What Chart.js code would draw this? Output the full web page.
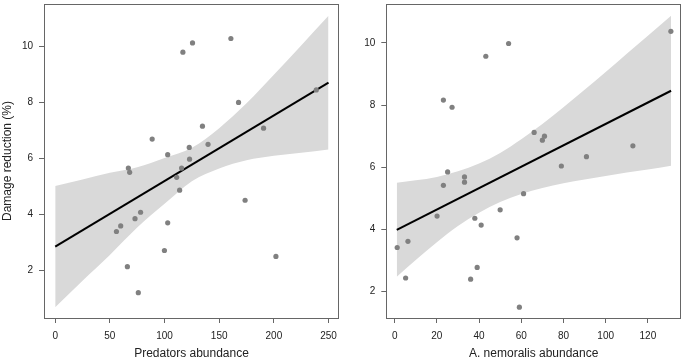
<!DOCTYPE html>
<html>
<head>
<meta charset="utf-8">
<script src="https://cdn.jsdelivr.net/npm/chart.js@4.4.1/dist/chart.umd.min.js"></script>
<style>
  html, body { margin: 0; padding: 0; background: #fff; }
  #wrap { position: relative; width: 685px; height: 360px; }
  .panel { position: absolute; top: 0; }
</style>
</head>
<body>
<div id="wrap">
  <div class="panel" style="left:0"><canvas id="predChart" width="343" height="360"></canvas></div>
  <div class="panel" style="left:343px"><canvas id="nemoChart" width="342" height="360"></canvas></div>
</div>
<script>
// Left panel: predators abundance
const predX = [116.8, 125.6, 160.7, 167.7, 238.8, 190.6, 134.7, 88.7, 122.6, 139.8, 102.9, 122.9, 66.9, 68.1,
  115.6, 111.1, 113.8, 173.7, 78.1, 73.0, 59.9, 56.0, 102.9, 99.9, 201.9, 66.0, 76.0]
const predY = [9.80, 10.13, 10.29, 8.00, 8.45, 7.08, 7.15, 6.69, 6.39, 6.50, 6.13, 5.97, 5.65, 5.50,
  5.65, 5.32, 4.86, 4.50, 4.07, 3.84, 3.58, 3.38, 3.69, 2.70, 2.49, 2.12, 1.19]
const predFitX = [0, 250]
const predFitY = [2.84, 8.71]
const predBandX = [0, 25, 50, 75, 100, 125, 150, 175, 200, 225, 250]
const predBandUpper = [5.01, 5.24, 5.48, 5.68, 6.01, 6.38, 7.08, 7.97, 8.99, 10.04, 11.10]
const predBandLower = [0.67, 1.62, 2.54, 3.52, 4.37, 5.18, 5.64, 5.93, 6.09, 6.20, 6.32]
const predTicks = [0, 50, 100, 150, 200, 250]

// Right panel: A. nemoralis abundance
const nemoX = [130.9, 54.0, 43.2, 23.1, 27.2, 66.1, 71.0, 70.0, 112.9, 90.9, 79.0, 25.1, 33.1, 33.1,
  23.1, 61.1, 20.1, 50.0, 38.0, 41.0, 58.0, 1.2, 6.3, 5.2, 36.0, 39.1, 59.1]
const nemoY = [10.37, 9.98, 9.57, 8.16, 7.93, 7.12, 7.00, 6.87, 6.69, 6.34, 6.04, 5.85, 5.69, 5.52,
  5.42, 5.15, 4.43, 4.63, 4.36, 4.14, 3.73, 3.42, 3.62, 2.44, 2.40, 2.78, 1.50]
const nemoFitX = [1, 131]
const nemoFitY = [3.99, 8.46]
const nemoBandX = [1, 10, 20, 30, 40, 50, 60, 70, 80, 90, 100, 110, 120, 131]
const nemoBandUpper = [5.50, 5.58, 5.69, 5.87, 6.12, 6.46, 6.90, 7.39, 7.93, 8.49, 9.06, 9.65, 10.23, 10.87]
const nemoBandLower = [2.48, 3.02, 3.59, 4.11, 4.54, 4.88, 5.14, 5.33, 5.49, 5.61, 5.72, 5.83, 5.93, 6.05]
const nemoTicks = [0, 20, 40, 60, 80, 100, 120]

const damageTicks = [2, 4, 6, 8, 10]

const FONT = 'Liberation Sans, Arial, Helvetica, sans-serif'

// cadre autour de la zone de tracé, comme le box() de R
const boxPlugin = {
  id: 'box',
  afterDraw(chart) {
    const { ctx, chartArea: a } = chart
    ctx.save()
    ctx.strokeStyle = '#666'
    ctx.lineWidth = 1
    ctx.strokeRect(Math.round(a.left) + 0.5, Math.round(a.top) + 0.5,
      Math.round(a.right - a.left) - 1, Math.round(a.bottom - a.top))
    ctx.restore()
  },
}

const toPoints = (xs, ys) => xs.map((x, i) => ({ x: x, y: ys[i] }))

// pas de marge automatique autour des axes
const noScalePadding = (s) => {
  s.paddingTop = 0
  s.paddingBottom = 0
  s.paddingLeft = 0
  s.paddingRight = 0
}

function drawPanel(canvasId, cfg) {
  const ctx = document.getElementById(canvasId).getContext('2d')

  new Chart(ctx, {
    type: 'scatter',
    data: {
      datasets: [
        {
          data: toPoints(cfg.x, cfg.y),
          backgroundColor: '#808080',
          borderWidth: 0,
          pointRadius: 2.6,
          order: 0,
        },
        {
          data: toPoints(cfg.fitX, cfg.fitY),
          showLine: true,
          borderColor: '#000',
          borderWidth: 2,
          pointRadius: 0,
          order: 1,
        },
        {
          data: toPoints(cfg.bandX, cfg.upper),
          showLine: true,
          borderWidth: 0,
          borderColor: 'rgba(0,0,0,0)',
          backgroundColor: '#d9d9d9',
          fill: '+1',
          pointRadius: 0,
          cubicInterpolationMode: 'monotone',
          order: 2,
        },
        {
          data: toPoints(cfg.bandX, cfg.lower),
          showLine: true,
          borderWidth: 0,
          borderColor: 'rgba(0,0,0,0)',
          fill: false,
          pointRadius: 0,
          cubicInterpolationMode: 'monotone',
          order: 3,
        },
      ],
    },
    options: {
      responsive: false,
      animation: false,
      events: [],
      layout: {
        padding: { top: 1, right: cfg.padRight, bottom: 0, left: 0 },
      },
      plugins: {
        legend: { display: false },
        tooltip: { enabled: false },
      },
      scales: {
        x: {
          type: 'linear',
          min: cfg.xMin,
          max: cfg.xMax,
          afterBuildTicks: (s) => { s.ticks = cfg.xTicks.map((v) => ({ value: v })) },
          afterFit: (s) => { s.height = 42; noScalePadding(s) },
          border: { display: false },
          grid: { drawOnChartArea: false, drawTicks: true, tickLength: 5, color: '#666' },
          ticks: { padding: 7, color: '#222', font: { family: FONT, size: 10 }, maxRotation: 0 },
          title: {
            display: true,
            text: cfg.xTitle,
            color: '#222',
            font: { family: FONT, size: 12, lineHeight: 1 },
            padding: 0,
          },
        },
        y: {
          type: 'linear',
          min: cfg.yMin,
          max: cfg.yMax,
          afterBuildTicks: (s) => { s.ticks = damageTicks.map((v) => ({ value: v })) },
          afterFit: (s) => { s.width = cfg.yWidth; noScalePadding(s) },
          border: { display: false },
          grid: { drawOnChartArea: false, drawTicks: true, tickLength: 5, color: '#666' },
          ticks: { padding: 6, color: '#222', font: { family: FONT, size: 10 } },
          title: {
            display: !!cfg.yTitle,
            text: cfg.yTitle || '',
            color: '#222',
            font: { family: FONT, size: 12, lineHeight: 1.2 },
            padding: 0,
          },
        },
      },
    },
    plugins: [boxPlugin],
  })
}

drawPanel('predChart', {
  x: predX, y: predY,
  fitX: predFitX, fitY: predFitY,
  bandX: predBandX, upper: predBandUpper, lower: predBandLower,
  xTicks: predTicks,
  xMin: -10.26, xMax: 259.6,
  yMin: 0.284, yMax: 11.525,
  yWidth: 44, padRight: 1.7,
  xTitle: 'Predators abundance',
  yTitle: 'Damage reduction (%)',
})

drawPanel('nemoChart', {
  x: nemoX, y: nemoY,
  fitX: nemoFitX, fitY: nemoFitY,
  bandX: nemoBandX, upper: nemoBandUpper, lower: nemoBandLower,
  xTicks: nemoTicks,
  xMin: -3.96, xMax: 135.7,
  yMin: 1.153, yMax: 11.25,
  yWidth: 43.3, padRight: 2.3,
  xTitle: 'A. nemoralis abundance',
})
</script>
</body>
</html>
